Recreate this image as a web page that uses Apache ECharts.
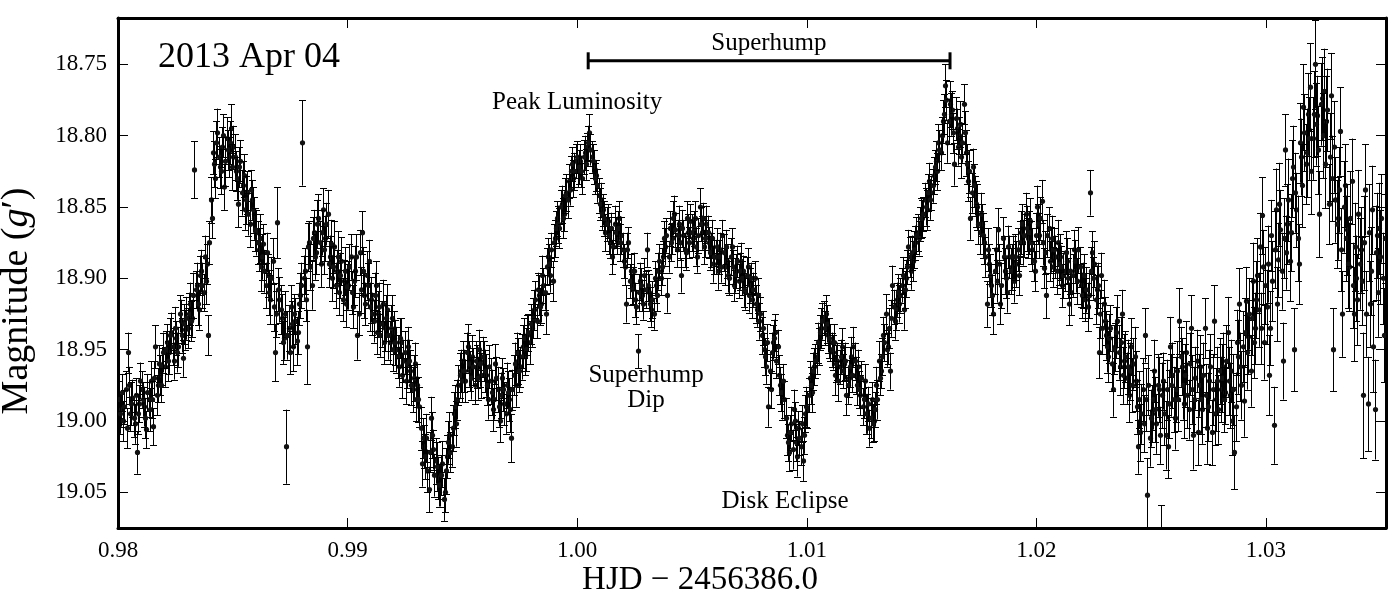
<!DOCTYPE html>
<html><head><meta charset="utf-8">
<script src="https://cdn.jsdelivr.net/npm/echarts@6/dist/echarts.min.js"></script>
<style>html,body{margin:0;padding:0;background:#fff}#c{width:1400px;height:600px}</style>
</head><body><div id="c"></div>
<script>
// Observation cadence (HJD - 2456386.0); exposures alternate "even" / "odd"
const t0 = 0.98003;
const cadence = 0.0001;      // spacing of even exposures; odd ones sit half-way between

// g' magnitudes, even exposures
const magEven = [
18.985,18.992,19.000,18.978,18.952,18.995,18.984,19.002,19.022,18.988,
18.978,18.990,19.006,18.985,18.972,19.004,18.948,18.975,18.968,18.962,
18.962,18.945,18.952,18.938,18.958,18.942,18.948,18.930,18.956,18.936,
18.935,18.918,18.928,18.824,18.905,18.922,18.895,18.910,18.902,18.940,
18.845,18.812,18.830,18.798,18.822,18.808,18.836,18.802,18.815,18.795,
18.808,18.825,18.848,18.818,18.835,18.852,18.840,18.862,18.845,18.858,
18.868,18.880,18.892,18.876,18.905,18.898,18.915,18.888,18.952,18.861,
18.915,18.928,18.942,19.018,18.935,18.920,18.948,18.930,18.938,18.912,
18.805,18.895,18.948,18.875,18.905,18.868,18.882,18.858,18.890,18.852,
18.872,18.855,18.885,18.900,18.878,18.895,18.910,18.888,18.902,18.918,
18.905,18.885,18.920,18.895,18.940,18.882,18.868,18.912,18.898,18.888,
18.915,18.930,18.905,18.925,18.940,18.918,18.935,18.922,18.945,18.928,
18.938,18.950,18.962,18.945,18.958,18.972,18.948,18.965,18.978,18.960,
18.975,18.990,19.030,19.018,19.012,19.048,18.998,19.020,19.028,19.040,
19.045,19.030,19.050,19.025,19.010,19.018,18.995,19.002,18.975,18.965,
18.958,18.972,18.948,18.965,18.955,18.975,18.962,18.950,18.968,18.958,
18.968,18.985,18.972,18.992,18.960,18.978,19.000,18.970,18.988,18.975,
18.985,19.012,18.968,18.975,18.958,18.962,18.948,18.955,18.940,18.945,
18.935,18.922,18.930,18.912,18.918,18.905,18.925,18.885,18.898,18.902,
18.872,18.858,18.865,18.848,18.855,18.840,18.832,18.825,18.830,18.818,
18.825,18.818,18.830,18.812,18.808,18.798,18.815,18.822,18.828,18.842,
18.845,18.852,18.868,18.860,18.875,18.885,18.862,18.872,18.858,18.870,
18.888,18.918,18.875,18.895,18.905,18.915,18.951,18.902,18.912,18.898,
18.880,18.910,18.922,18.925,18.905,18.895,18.900,18.885,18.878,18.912,
18.865,18.872,18.855,18.880,18.862,18.898,18.870,18.882,18.868,18.860,
18.872,18.858,18.885,18.850,18.868,18.878,18.862,18.875,18.880,18.890,
18.885,18.895,18.880,18.870,18.892,18.888,18.900,18.878,18.905,18.895,
18.902,18.888,18.895,18.910,18.892,18.905,18.915,18.900,18.922,18.930,
18.940,18.950,18.962,18.990,18.978,18.945,18.938,18.948,18.975,18.985,
18.985,19.010,19.022,19.002,18.992,19.015,19.005,19.018,19.028,18.995,
18.992,18.970,18.980,18.962,18.955,18.948,18.935,18.928,18.925,18.940,
18.945,18.952,18.968,18.958,18.962,18.948,18.960,18.982,18.970,18.955,
18.948,18.968,18.962,18.982,18.990,18.972,18.995,19.005,18.985,19.000,
18.975,18.958,18.965,18.940,18.925,18.948,18.965,18.905,18.930,18.915,
18.918,18.905,18.922,18.900,18.878,18.895,18.888,18.875,18.868,18.862,
18.858,18.845,18.852,18.832,18.840,18.828,18.818,18.805,18.812,18.790,
18.765,18.805,18.778,18.782,18.820,18.795,18.800,18.815,18.778,18.812,
18.832,18.858,18.822,18.842,18.850,18.868,18.862,18.875,18.918,18.890,
18.905,18.925,18.880,18.866,18.918,18.872,18.895,18.910,18.885,18.892,
18.902,18.890,18.898,18.868,18.875,18.855,18.872,18.860,18.880,18.895,
18.850,18.870,18.846,18.893,18.912,18.865,18.880,18.892,18.885,18.875,
18.885,18.905,18.895,18.888,18.918,18.910,18.880,18.895,18.880,18.905,
18.905,18.915,18.920,18.840,18.882,18.890,18.908,18.952,18.898,18.918,
18.940,18.955,18.935,18.978,18.948,18.930,18.962,18.925,18.958,18.970,
18.982,18.948,18.960,18.972,19.018,19.008,18.978,18.940,19.052,19.012,
18.995,18.965,19.002,18.978,19.095,18.972,19.010,19.018,18.948,18.968,
18.998,18.965,18.930,18.962,18.988,18.952,18.992,18.935,19.010,18.970,
19.008,18.962,18.992,18.935,19.005,18.972,19.008,18.930,18.985,18.992,
18.978,18.962,18.980,18.938,18.982,19.000,19.022,18.945,18.918,18.975,
18.986,18.916,18.941,18.965,18.902,18.935,18.898,18.878,18.856,18.945,
18.920,18.968,18.870,19.003,18.852,18.887,18.866,18.958,18.810,18.862,
18.888,18.830,18.950,18.852,18.890,18.815,18.780,18.820,18.785,18.766,
18.802,18.750,18.786,18.855,18.774,18.769,18.790,18.848,18.772,18.950,
18.845,18.858,18.797,18.925,18.835,18.866,18.892,18.832,18.925,18.900,
18.855,18.880,18.982,18.838,18.988,18.918,18.852,18.992,18.870,18.865,
18.858,18.940
];

// g' magnitudes, odd exposures
const magOdd = [
18.995,18.980,18.990,19.005,18.975,18.988,18.998,18.982,18.995,18.972,
18.985,18.998,18.980,18.992,18.985,18.970,18.982,18.960,18.975,18.952,
18.950,18.958,18.940,18.948,18.935,18.952,18.925,18.940,18.932,18.928,
18.925,18.930,18.912,18.908,18.918,18.898,18.905,18.885,18.890,18.875,
18.858,18.820,18.805,18.815,18.825,18.800,18.818,18.810,18.805,18.822,
18.815,18.830,18.822,18.840,18.828,18.845,18.855,18.838,18.852,18.866,
18.875,18.872,18.885,18.895,18.882,18.910,18.900,18.920,18.925,18.908,
18.922,18.945,18.925,18.940,18.952,18.932,18.925,18.944,18.918,18.905,
18.900,18.915,18.878,18.892,18.872,18.885,18.862,18.875,18.868,18.880,
18.862,18.890,18.876,18.892,18.905,18.885,18.898,18.915,18.895,18.906,
18.892,18.910,18.902,18.885,18.925,18.908,18.895,18.918,18.905,18.920,
18.925,18.912,18.938,18.920,18.932,18.945,18.928,18.940,18.935,18.950,
18.945,18.955,18.942,18.968,18.952,18.960,18.958,18.975,18.970,18.985,
18.985,19.005,19.012,19.025,19.035,19.022,19.010,19.038,19.032,19.045,
19.038,19.055,19.035,19.015,19.022,19.005,18.990,18.985,18.968,18.972,
18.965,18.952,18.960,18.970,18.962,18.958,18.970,18.960,18.955,18.965,
18.975,18.962,18.980,18.985,18.970,18.990,18.982,18.978,18.995,18.980,
18.992,18.978,18.960,18.952,18.965,18.955,18.942,18.950,18.938,18.932,
18.928,18.915,18.908,18.920,18.898,18.910,18.892,18.890,18.880,18.875,
18.865,18.862,18.850,18.858,18.842,18.845,18.838,18.820,18.825,18.815,
18.822,18.825,18.815,18.820,18.805,18.810,18.818,18.830,18.835,18.848,
18.855,18.858,18.862,18.870,18.865,18.878,18.868,18.865,18.875,18.880,
18.892,18.880,18.902,18.908,18.895,18.920,18.910,18.905,18.918,18.908,
18.905,18.918,18.915,18.900,18.912,18.888,18.892,18.872,18.870,18.885,
18.875,18.858,18.866,18.870,18.875,18.865,18.880,18.858,18.875,18.868,
18.865,18.878,18.870,18.862,18.858,18.872,18.868,18.882,18.872,18.885,
18.878,18.885,18.892,18.882,18.878,18.898,18.885,18.892,18.898,18.888,
18.895,18.900,18.908,18.898,18.912,18.900,18.908,18.918,18.912,18.925,
18.935,18.955,18.945,18.965,18.952,18.942,18.958,18.968,18.980,18.972,
18.998,19.015,19.008,19.020,19.000,19.025,19.012,19.002,19.010,18.990,
18.982,18.975,18.965,18.958,18.945,18.938,18.930,18.935,18.932,18.942,
18.950,18.945,18.960,18.972,18.955,18.965,18.958,18.975,18.962,18.968,
18.958,18.975,18.978,18.970,18.985,18.995,18.988,18.998,19.002,18.992,
18.985,18.970,18.955,18.945,18.950,18.935,18.928,18.920,18.922,18.910,
18.912,18.898,18.908,18.892,18.885,18.882,18.880,18.870,18.872,18.858,
18.855,18.850,18.840,18.845,18.835,18.822,18.825,18.810,18.800,18.785,
18.775,18.790,18.785,18.798,18.788,18.808,18.792,18.805,18.798,18.820,
18.825,18.840,18.835,18.848,18.862,18.855,18.870,18.885,18.880,18.898,
18.912,18.895,18.902,18.890,18.905,18.885,18.900,18.878,18.895,18.885,
18.885,18.880,18.875,18.862,18.870,18.865,18.868,18.875,18.888,18.870,
18.862,18.858,18.875,18.882,18.870,18.888,18.872,18.880,18.895,18.890,
18.892,18.898,18.882,18.900,18.895,18.898,18.888,18.902,18.892,18.912,
18.898,18.908,18.912,18.895,18.900,18.915,18.905,18.925,18.935,18.930,
18.948,18.942,18.960,18.950,18.938,18.952,18.945,18.968,18.955,18.962,
18.965,18.975,18.955,18.990,18.985,18.995,19.002,18.985,18.975,18.998,
18.985,18.992,18.975,19.010,18.982,18.995,18.978,18.988,18.975,18.985,
18.978,18.985,18.955,18.975,18.968,18.982,18.960,18.978,18.985,18.958,
18.975,18.985,18.968,18.982,18.990,18.962,18.978,18.995,18.972,18.965,
18.970,18.985,18.958,18.972,18.965,18.978,18.990,18.955,18.962,18.948,
18.938,18.952,18.925,18.928,18.945,18.915,18.922,18.935,18.892,18.905,
18.890,18.935,18.902,18.880,18.918,18.848,18.895,18.872,18.882,18.845,
18.868,18.822,18.840,18.872,18.805,18.835,18.798,18.812,18.802,18.825,
18.785,18.792,18.810,18.778,18.800,18.820,18.782,18.815,18.830,18.808,
18.862,18.838,18.880,18.850,18.872,18.890,18.858,18.905,18.878,18.915,
18.890,18.902,18.875,18.925,18.868,18.895,18.948,18.882,18.910,18.885,
18.900,18.872
];

// 1-sigma errors, in millimag
const errEvenMmag = [
13,12,14,13,14,12,13,14,15,13, 13,14,13,12,14,13,15,12,14,13,
14,13,15,14,13,12,14,15,13,14, 14,15,13,20,16,14,15,13,16,14,
16,15,14,17,15,14,16,15,14,17, 15,14,16,15,17,14,15,16,14,15,
16,15,17,14,16,15,17,16,20,25, 16,17,15,26,16,15,17,16,15,16,
30,16,26,15,17,16,15,17,16,15, 16,17,15,16,18,15,16,17,15,16,
17,16,15,18,17,16,15,16,17,15, 16,15,17,16,15,17,16,18,15,16,
15,16,14,17,15,16,14,15,16,15, 15,14,16,15,17,16,15,14,16,15,
15,16,14,15,16,14,15,16,14,15, 14,15,16,14,15,13,15,14,16,14,
15,14,16,15,14,16,15,14,15,16, 15,17,14,15,16,14,15,13,14,15,
13,14,12,14,13,12,14,13,12,14, 13,12,14,13,12,13,12,11,13,12,
11,12,11,12,10,13,11,12,11,12, 12,11,13,12,11,12,13,11,12,13,
12,13,11,12,13,12,12,13,11,12, 12,13,12,11,12,13,12,11,13,12,
12,11,13,12,13,12,11,12,13,12, 13,12,11,13,12,12,13,11,12,13,
12,13,12,11,13,12,12,13,11,12, 12,13,11,12,13,12,13,12,12,13,
13,12,12,14,13,12,13,12,13,14, 13,14,13,12,14,13,12,13,14,13,
13,12,14,13,12,13,14,12,13,12, 13,12,14,13,12,13,12,14,13,14,
14,13,12,14,13,12,14,13,12,14, 13,14,12,13,14,12,13,14,13,12,
13,12,14,13,12,13,14,12,13,12, 13,12,14,13,12,13,14,13,12,15,
15,14,16,13,15,14,13,15,14,16, 14,15,13,14,16,15,14,15,16,14,
15,14,16,15,14,15,16,14,15,16, 15,16,14,15,16,15,14,16,15,14,
15,16,15,14,16,15,16,14,15,16, 16,15,14,16,15,16,14,15,16,15,
16,15,17,16,15,16,17,18,16,17, 17,18,16,19,17,18,20,17,19,18,
19,20,18,21,19,20,22,19,26,20, 20,22,21,23,36,20,24,22,21,23,
22,21,23,20,24,22,21,23,24,22, 23,22,24,21,25,22,23,25,22,24,
23,24,22,25,23,24,26,23,25,24, 25,24,26,25,27,25,26,24,27,26,
26,28,25,27,29,26,28,27,25,28, 28,27,29,26,28,27,30,28,29,31,
29,31,28,30,29,30,32,28,30,29, 30,29,31,30,29,32,31,30,33,30,
31,30,44,32,33,30,31,35,30,32, 31,33
];
const errOddMmag = [
14,13,12,14,13,15,13,12,14,13, 12,14,13,15,13,12,14,13,12,14,
13,14,12,13,15,14,13,12,14,15, 15,14,16,13,15,14,16,15,14,15,
14,16,15,14,16,15,17,14,15,16, 16,15,14,16,15,17,15,14,16,15,
15,17,16,15,14,16,15,17,16,15, 17,15,16,17,15,16,14,17,15,16,
16,15,17,16,15,16,17,15,16,17, 15,16,17,15,16,18,16,15,17,16,
16,15,17,16,15,16,17,15,16,17, 15,16,15,17,16,15,16,17,16,15,
16,15,14,16,15,17,15,14,16,15, 16,15,14,16,15,14,16,15,17,15,
14,15,16,15,14,16,15,14,16,15, 15,14,16,15,13,14,15,16,14,15,
14,15,16,14,15,14,16,15,14,15, 16,14,15,14,15,16,14,15,13,14,
14,13,12,13,14,12,13,14,12,13, 12,13,12,14,12,13,11,12,13,11,
12,11,12,11,12,11,12,11,12,11, 11,12,12,13,11,12,11,12,13,12,
13,12,12,11,13,12,13,12,11,13, 11,12,13,12,11,12,13,12,12,11,
13,12,12,11,12,13,12,12,11,13, 12,13,12,12,11,13,12,12,13,12,
13,12,11,13,12,12,13,12,12,11, 13,12,12,13,12,11,12,13,12,12,
12,13,13,12,14,13,12,14,13,12, 14,13,12,14,13,14,12,13,13,14,
12,13,13,12,14,12,13,12,13,14, 12,13,13,14,12,12,13,13,14,12,
13,14,13,12,13,14,12,14,13,12, 14,12,13,13,12,14,13,12,14,13,
12,13,13,12,14,12,13,13,12,14, 12,13,13,14,12,12,13,14,13,14,
14,16,15,14,15,13,16,14,15,14, 15,14,15,16,14,15,16,14,15,15,
14,16,15,14,16,15,14,15,16,15, 16,15,15,14,15,16,15,15,14,16,
14,15,16,15,15,14,16,15,16,15, 15,16,15,14,16,15,15,16,14,16,
15,16,16,17,15,17,16,17,18,17, 18,17,19,17,18,19,18,20,18,19,
20,19,21,19,20,21,20,22,21,20, 21,23,22,20,23,22,21,24,22,23,
23,22,21,24,22,23,22,24,23,22, 22,24,23,22,24,23,25,22,24,23,
24,23,25,24,22,25,24,26,24,25, 24,26,25,26,25,27,26,25,26,27,
27,26,28,27,26,29,27,28,26,29, 27,29,28,30,28,29,27,31,29,30,
30,29,31,29,30,31,29,31,30,32, 31,30,29,32,30,31,33,30,31,32,
32,31,33,30,34,31,32,33,31,33, 32,31
];

const xTicks = [0.98, 0.99, 1.00, 1.01, 1.02, 1.03];
const yTicks = [18.75, 18.80, 18.85, 18.90, 18.95, 19.00, 19.05];

// Superhump period bar: start / end time, drawn at this magnitude
const superhumpStart = 1.00048;
const superhumpEnd = 1.01624;
const superhumpMag = 18.7475;

// Annotations [text, time, magnitude]
const notes = [
  ['Superhump', 1.00835, 18.7351],
  ['Peak Luminosity', 1.0000, 18.7770],
  ['Superhump\nDip', 1.0030, 18.9765],
  ['Disk Eclipse', 1.00905, 19.0565]
];
const dateLabel = ['2013 Apr 04', 0.98174, 18.7450];

const SERIF = '"Liberation Serif", "Times New Roman", serif';
const points = [];
magEven.forEach((m, i) => points.push([t0 + i * cadence, m, errEvenMmag[i] / 1000]));
magOdd.forEach((m, i) => points.push([t0 + (i + 0.5) * cadence, m, errOddMmag[i] / 1000]));

const chart = echarts.init(document.getElementById('c'), null, {renderer: 'canvas'});

function errRender(params, api) {
  const x = api.value(0), y = api.value(1), e = api.value(2);
  const p = api.coord([x, y]);
  const a = api.coord([x, y - e]);
  const b = api.coord([x, y + e]);
  const px = Math.round(p[0]) + 0.5;
  const cw = 3.5;
  const st = {stroke: '#000', lineWidth: 1};
  return {type: 'group', children: [
    {type: 'line', shape: {x1: px, y1: a[1], x2: px, y2: b[1]}, style: st},
    {type: 'line', shape: {x1: px - cw, y1: Math.round(a[1]) + 0.5, x2: px + cw, y2: Math.round(a[1]) + 0.5}, style: st},
    {type: 'line', shape: {x1: px - cw, y1: Math.round(b[1]) + 0.5, x2: px + cw, y2: Math.round(b[1]) + 0.5}, style: st},
    {type: 'circle', shape: {cx: px, cy: p[1], r: 2.6}, style: {fill: '#111'}}
  ]};
}

function barRender(params, api) {
  const a = api.coord([api.value(0), api.value(2)]);
  const b = api.coord([api.value(1), api.value(2)]);
  const st = {stroke: '#000', lineWidth: 3};
  return {type: 'group', children: [
    {type: 'line', shape: {x1: a[0], y1: a[1], x2: b[0], y2: b[1]}, style: st},
    {type: 'line', shape: {x1: a[0], y1: a[1] - 8.5, x2: a[0], y2: a[1] + 8.5}, style: st},
    {type: 'line', shape: {x1: b[0], y1: b[1] - 8.5, x2: b[0], y2: b[1] + 8.5}, style: st}
  ]};
}

const xMin = 0.98, xMax = 1.03523, yMin = 18.7175, yMax = 19.075;
const frame = {show: true, lineStyle: {color: '#000', width: 3}};
const tickStyle = {color: '#000', width: 1};

function xAx(pos, labels) {
  return {
    type: 'value', position: pos, min: xMin, max: xMax, gridIndex: 0,
    axisLine: frame,
    axisTick: {show: true, inside: true, length: 10, customValues: xTicks, lineStyle: tickStyle},
    axisLabel: {show: labels, customValues: xTicks, formatter: v => v.toFixed(2),
      fontFamily: SERIF, fontSize: 23, color: '#000', margin: 11},
    splitLine: {show: false}
  };
}
function yAx(pos, labels) {
  return {
    type: 'value', position: pos, min: yMin, max: yMax, inverse: true, gridIndex: 0,
    axisLine: frame,
    axisTick: {show: true, inside: true, length: 10, customValues: yTicks, lineStyle: tickStyle},
    axisLabel: {show: labels, customValues: yTicks, formatter: v => v.toFixed(2),
      fontFamily: SERIF, fontSize: 23, color: '#000', margin: 11},
    splitLine: {show: false}
  };
}

chart.setOption({
  animation: false,
  backgroundColor: '#fff',
  grid: {left: 118, right: 14, top: 18, bottom: 72},
  xAxis: [xAx('bottom', true), xAx('top', false)],
  yAxis: [yAx('left', true), yAx('right', false)],
  series: [
    {type: 'custom', name: 'g', xAxisIndex: 0, yAxisIndex: 0, clip: true,
     renderItem: errRender, data: points, encode: {x: 0, y: 1}},
    {type: 'custom', name: 'superhump', xAxisIndex: 0, yAxisIndex: 0, clip: false,
     renderItem: barRender, data: [[superhumpStart, superhumpEnd, superhumpMag]], encode: {x: [0, 1], y: 2}}
  ]
});

function txt(x, y, text, size, align, extra) {
  return Object.assign({type: 'text', x: x, y: y, silent: true,
    style: {text: text, fill: '#000', fontFamily: SERIF, fontSize: size, lineHeight: size,
      align: align, textAlign: align, verticalAlign: 'middle', textVerticalAlign: 'middle'}}, extra || {});
}

const gfx = [];
notes.forEach(n => {
  const p = chart.convertToPixel({gridIndex: 0}, [n[1], n[2]]);
  gfx.push(txt(p[0], p[1], n[0], 25, 'center'));
});
{
  const p = chart.convertToPixel({gridIndex: 0}, [dateLabel[1], dateLabel[2]]);
  gfx.push(txt(p[0], p[1], dateLabel[0], 36, 'left'));
}
gfx.push(txt(700, 580, 'HJD \u2212 2456386.0', 33, 'center'));
gfx.push({type: 'text', x: 17, y: 301, rotation: Math.PI / 2, silent: true,
  style: {text: '{a|Magnitude (}{g|g}{a|\u2032)}', fill: '#000',
    align: 'center', textAlign: 'center', verticalAlign: 'middle', textVerticalAlign: 'middle',
    rich: {a: {fontFamily: SERIF, fontSize: 38, fill: '#000', color: '#000'},
           g: {fontFamily: SERIF, fontSize: 38, fontStyle: 'italic', fill: '#000', color: '#000'}}}});
chart.setOption({graphic: gfx});
</script>
</body></html>
